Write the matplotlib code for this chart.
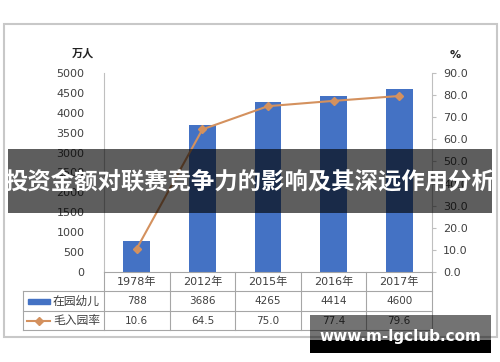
import matplotlib
matplotlib.use("Agg")
import matplotlib.pyplot as plt
from matplotlib.patches import Rectangle
from matplotlib.lines import Line2D

plt.rcParams['font.family'] = ['DejaVu Sans', 'Noto Sans CJK SC']

# data
years = ['1978年', '2012年', '2015年', '2016年', '2017年']
kids = [788, 3686, 4265, 4414, 4600]          # 在园幼儿 (万人)
rate = [10.6, 64.5, 75.0, 77.4, 79.6]         # 毛入园率 (%)
kids_labels = ['788', '3686', '4265', '4414', '4600']
rate_labels = ['10.6', '64.5', '75.0', '77.4', '79.6']
series_names = ['在园幼儿', '毛入园率']
title = '投资金额对联赛竞争力的影响及其深远作用分析'
watermark = 'www.m-lgclub.com'

W, H = 500, 362
bar_color = '#4472C4'
line_color = '#D4915E'
grid_gray = '#A6A6A6'
txt_gray = '#404040'


def fx(px):
    return px / W


def fy(py):
    return 1 - py / H


fig = plt.figure(figsize=(5, 3.62), dpi=100)
fig.patch.set_facecolor('white')

# outer border
fig.patches.append(Rectangle((fx(4), fy(337)), fx(493), (337 - 24) / H, transform=fig.transFigure,
                             fill=False, edgecolor='#C8C8C8', lw=1.5, zorder=1))

left, right, top, bottom = 104, 432, 73, 272
ax = fig.add_axes([fx(left), fy(bottom), fx(right - left), (bottom - top) / H])
ax.set_facecolor('none')
x = list(range(len(years)))
ax.bar(x, kids, width=0.41, color=bar_color, zorder=2)
ax.set_xlim(-0.5, len(years) - 0.5)
ax.set_ylim(0, 5000)
ax.set_yticks(range(0, 5001, 500))
ax.tick_params(axis='y', length=0, labelsize=8, labelcolor=txt_gray, pad=14)
ax.set_xticks([])
for s in ['top', 'right', 'bottom']:
    ax.spines[s].set_visible(False)
ax.spines['left'].set_color('#BFBFBF')

ax2 = ax.twinx()
ax2.plot(x, rate, color=line_color, lw=1.5, marker='D', markersize=4.5, zorder=3)
ax2.set_ylim(0, 90)
ax2.set_yticks(range(0, 91, 10))
ax2.set_yticklabels(['%.1f' % v for v in range(0, 91, 10)])
ax2.tick_params(axis='y', length=3, color='#BFBFBF', labelsize=8, labelcolor=txt_gray, pad=5)
for s in ['top', 'left', 'bottom']:
    ax2.spines[s].set_visible(False)
ax2.spines['right'].set_color('#BFBFBF')

fig.text(fx(83), fy(53), '万人', ha='center', va='center', fontsize=8, fontweight='bold', color='#222222')
fig.text(fx(455), fy(55), '%', ha='center', va='center', fontsize=8, fontweight='bold', color='#222222')

# data table
tl = 23
rows_y = [272, 291, 311, 330]
colw = (right - left) / len(years)
lines = []
for yy in rows_y[1:]:
    lines.append(([tl, right], [yy, yy]))
lines.append(([left, right], [rows_y[0], rows_y[0]]))
lines.append(([tl, tl], [rows_y[1], rows_y[3]]))
lines.append(([left, left], [rows_y[0], rows_y[3]]))
for k in range(1, len(years) + 1):
    xx = left + k * colw
    lines.append(([xx, xx], [rows_y[0], rows_y[3]]))
for xs, ys in lines:
    fig.add_artist(Line2D([fx(v) for v in xs], [fy(v) for v in ys], color=grid_gray, lw=0.8))

for i in range(len(years)):
    cx = left + (i + 0.5) * colw
    fig.text(fx(cx), fy((rows_y[0] + rows_y[1]) / 2), years[i], ha='center', va='center', fontsize=8, color=txt_gray)
    fig.text(fx(cx), fy((rows_y[1] + rows_y[2]) / 2), kids_labels[i], ha='center', va='center', fontsize=7.5, color=txt_gray)
    fig.text(fx(cx), fy((rows_y[2] + rows_y[3]) / 2), rate_labels[i], ha='center', va='center', fontsize=7.5, color=txt_gray)

# legend keys inside table
r1 = (rows_y[1] + rows_y[2]) / 2
r2 = (rows_y[2] + rows_y[3]) / 2
fig.patches.append(Rectangle((fx(28), fy(r1 + 2.5)), fx(22), 5 / H, transform=fig.transFigure,
                             color=bar_color, zorder=2))
fig.add_artist(Line2D([fx(27), fx(50)], [fy(r2), fy(r2)], color=line_color, lw=1.5))
fig.add_artist(Line2D([fx(38.5)], [fy(r2)], color=line_color, marker='D', markersize=4.5, lw=0))
fig.text(fx(53), fy(r1), series_names[0], ha='left', va='center', fontsize=8.5, color=txt_gray)
fig.text(fx(53), fy(r2), series_names[1], ha='left', va='center', fontsize=8.5, color=txt_gray)

# banner overlay
fig.patches.append(Rectangle((fx(8), fy(213)), fx(484), 64 / H, transform=fig.transFigure,
                             color='black', alpha=0.63, lw=0, zorder=5))
fig.text(0.5, fy(182), title, ha='center', va='center', fontsize=16.8, fontweight='bold',
         color='white', family=['Noto Sans CJK SC', 'DejaVu Sans'], zorder=6)

# watermark
fig.patches.append(Rectangle((fx(310), fy(340)), fx(181), 25 / H, transform=fig.transFigure,
                             color='black', alpha=0.55, lw=0, zorder=5))
fig.patches.append(Rectangle((fx(310), fy(353)), fx(181), 13 / H, transform=fig.transFigure,
                             color='black', lw=0, zorder=5))
fig.text(fx(400), fy(337), watermark, ha='center', va='center', fontsize=11, fontweight='bold',
         color='white', zorder=6)

fig.savefig('out.png', dpi=100)
